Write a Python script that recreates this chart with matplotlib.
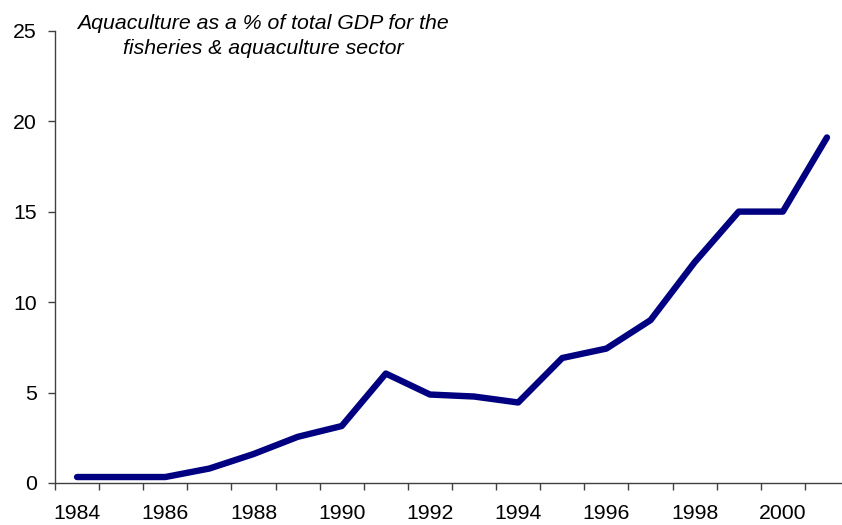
import matplotlib
matplotlib.use("Agg")
import matplotlib.pyplot as plt
import numpy as np

years = [1984, 1985, 1986, 1987, 1988, 1989, 1990, 1991, 1992, 1993,
         1994, 1995, 1996, 1997, 1998, 1999, 2000, 2001]
share = [0.33, 0.33, 0.33, 0.8, 1.6, 2.55, 3.15, 6.05, 4.89, 4.78,
         4.45, 6.91, 7.43, 9.0, 12.2, 15.0, 15.0, 19.1]
year_labels = ["1984", "1986", "1988", "1990", "1992", "1994", "1996", "1998", "2000"]
y_ticks = [0, 5, 10, 15, 20, 25]
title = "Aquaculture as a % of total GDP for the\nfisheries & aquaculture sector"

plt.rcParams['font.family'] = ['Liberation Sans', 'DejaVu Sans']

W, H = 842, 525
fig = plt.figure(figsize=(W / 100, H / 100), dpi=100)
left, right = 55, 849
bottom, top = 483, 30.7
ax = fig.add_axes([left / W, 1 - bottom / H, (right - left) / W, (bottom - top) / H])

x = np.arange(len(years))
ax.plot(x, share, color="#000080", lw=4.6, solid_capstyle="round", solid_joinstyle="round")

ax.set_xlim(-0.5, len(years) - 0.5)
ax.set_ylim(0, 25)

# category boundaries as tick marks
ax.set_xticks(np.arange(len(years) + 1) - 0.5)
ax.set_xticklabels([])
ax.tick_params(axis="x", which="major", direction="out", length=5, width=1, color="#404040")
lab_pos = [years.index(int(s)) for s in year_labels]
ax.set_xticks(lab_pos, minor=True)
ax.set_xticklabels(year_labels, minor=True)
ax.tick_params(axis="x", which="minor", length=0, pad=15, labelsize=15.3)

ax.set_yticks(y_ticks)
ax.tick_params(axis="y", direction="out", length=5, width=1, color="#404040", pad=8, labelsize=15.3)

for s in ["top", "right"]:
    ax.spines[s].set_visible(False)
for s in ["left", "bottom"]:
    ax.spines[s].set_color("#404040")
    ax.spines[s].set_linewidth(1)

fig.text(263 / W, 1 - 14 / H, title, ha="center", va="top", style="italic",
         fontsize=15.3, linespacing=1.42)

fig.savefig("out.png", dpi=100)
